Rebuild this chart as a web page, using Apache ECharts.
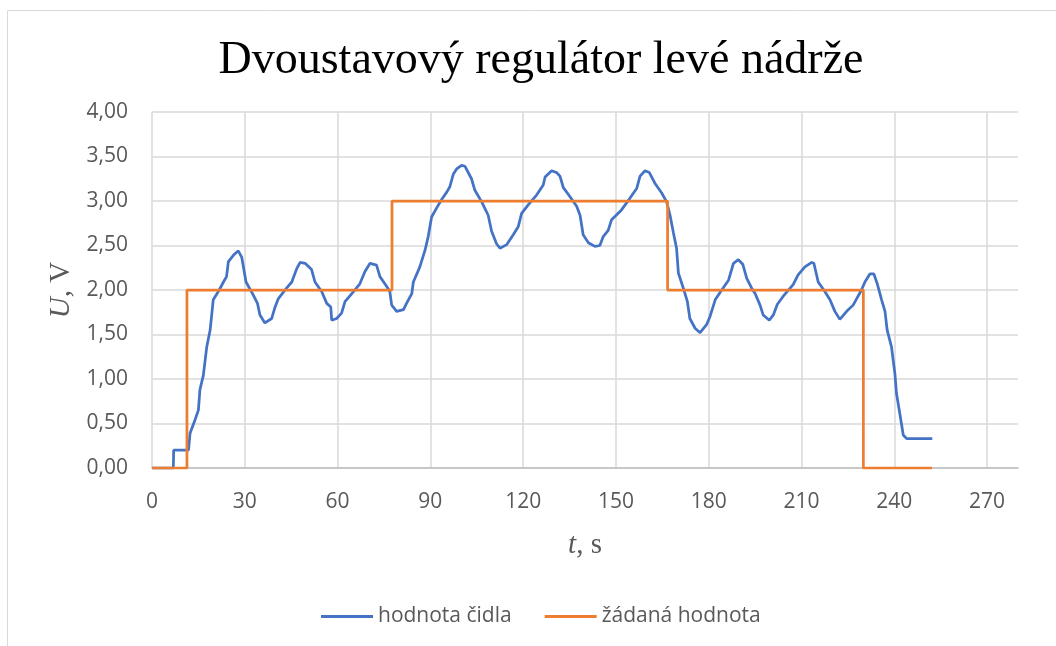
<!DOCTYPE html>
<html>
<head>
  <meta charset="utf-8">
  <title>Dvoustavový regulátor</title>
  <script src="https://cdn.jsdelivr.net/npm/echarts@6/dist/echarts.min.js"></script>
  <style>
    html, body { margin: 0; padding: 0; background: #fff; }
    #main { width: 1056px; height: 646px; }
  </style>
</head>
<body>
  <div id="main"></div>
  <script type="text/javascript">
    // hodnota čidla - čas [s] a napětí [V]
    var sensorTime = [0, 6.9, 7.0, 11.8, 12.3, 13.9, 15.0, 15.5, 16.6, 17.7, 18.8, 19.8, 21.4, 23.1, 24.1, 24.7, 26.3, 27.9, 29.0, 30.4,
      32.8, 34.1, 34.9, 36.5, 38.7, 39.8, 40.8, 43.5, 45.2, 46.8, 47.9, 49.5, 51.6, 52.7, 54.9, 56.5, 57.8, 58.1, 59.7, 61.3,
      62.4, 64.6, 67.2, 68.9, 70.5, 72.6, 73.7, 75.9, 76.9, 77.5, 79.1, 81.3, 82.3, 84.0, 84.5, 86.6, 88.3, 89.3, 90.4, 92.0,
      93.7, 95.3, 96.3, 97.4, 98.5, 100.1, 101.2, 103.3, 104.4, 106.6, 108.7, 109.8, 111.4, 112.5, 114.7, 116.8, 118.4, 119.5, 121.7, 124.4,
      126.5, 127.1, 129.2, 130.8, 131.9, 133.0, 135.1, 137.3, 138.4, 139.4, 141.1, 143.2, 144.8, 145.9, 147.5, 148.6, 151.8, 154.5, 156.7, 157.8,
      159.4, 160.8, 162.6, 164.8, 166.4, 167.5, 168.6, 169.6, 170.2, 171.8, 173.1, 173.9, 175.6, 177.2, 179.3, 180.4, 182.1, 184.2, 186.4, 188.0,
      189.6, 191.0, 192.3, 193.9, 195.0, 196.6, 197.6, 199.6, 200.9, 202.2, 204.1, 207.3, 208.9, 211.1, 213.3, 214.0, 215.4, 217.6, 219.2, 220.8,
      222.4, 224.6, 226.7, 227.8, 229.4, 230.5, 232.1, 233.4, 234.5, 235.9, 237.0, 237.7, 239.1, 240.2, 240.7, 241.8, 242.9, 244.0, 252.3]
    var sensorVolt = [0, 0, 0.2, 0.2, 0.39, 0.54, 0.65, 0.88, 1.04, 1.36, 1.55, 1.89, 1.98, 2.09, 2.15, 2.32, 2.39, 2.44, 2.37, 2.09,
      1.94, 1.85, 1.72, 1.63, 1.68, 1.81, 1.90, 2.02, 2.09, 2.24, 2.31, 2.30, 2.23, 2.09, 1.98, 1.85, 1.81, 1.66, 1.68, 1.74,
      1.87, 1.96, 2.07, 2.21, 2.30, 2.28, 2.15, 2.04, 1.98, 1.83, 1.76, 1.78, 1.85, 1.96, 2.09, 2.26, 2.45, 2.60, 2.82, 2.92,
      3.02, 3.10, 3.16, 3.30, 3.36, 3.40, 3.39, 3.25, 3.12, 2.99, 2.84, 2.66, 2.52, 2.47, 2.51, 2.62, 2.71, 2.86, 2.96, 3.07,
      3.18, 3.27, 3.34, 3.32, 3.28, 3.15, 3.05, 2.94, 2.84, 2.62, 2.53, 2.49, 2.50, 2.60, 2.67, 2.79, 2.90, 3.03, 3.14, 3.28,
      3.34, 3.32, 3.20, 3.09, 2.99, 2.84, 2.64, 2.47, 2.19, 2.02, 1.87, 1.68, 1.57, 1.52, 1.61, 1.70, 1.89, 2.00, 2.11, 2.30,
      2.34, 2.29, 2.13, 2.02, 1.96, 1.83, 1.72, 1.66, 1.72, 1.84, 1.93, 2.06, 2.17, 2.26, 2.31, 2.30, 2.09, 1.98, 1.89, 1.76,
      1.67, 1.76, 1.83, 1.90, 2.00, 2.09, 2.18, 2.18, 2.07, 1.89, 1.76, 1.55, 1.36, 1.06, 0.84, 0.61, 0.37, 0.33, 0.33]

    // žádaná hodnota
    var setTime = [0, 11.3, 11.3, 77.6, 77.6, 166.7, 166.7, 230, 230, 252.2]
    var setVolt = [0, 0, 2, 2, 3, 3, 2, 2, 0, 0]

    // popisky osy x
    var xTicks = [0, 30, 60, 90, 120, 150, 180, 210, 240, 270]

    function zip(a, b) {
      var out = []
      for (var i = 0; i < a.length; i++) {
        out.push([a[i], b[i]])
      }
      return out
    }

    var labelFont = '"Open Sans", sans-serif'
    var serifFont = '"Liberation Serif", serif'
    var myChart = echarts.init(document.getElementById('main'))

    var option = {
      animation: false,
      backgroundColor: '#fff',
      title: {
        text: 'Dvoustavový regulátor levé nádrže',
        left: 536,
        textAlign: 'center',
        top: 33,
        textStyle: {
          fontFamily: serifFont,
          fontSize: 46,
          fontWeight: 'normal',
          color: '#000'
        }
      },
      // rámeček grafu
      graphic: [{
        type: 'rect',
        shape: { x: 7.5, y: 10.5, width: 1200, height: 800 },
        style: { fill: 'none', stroke: '#d9d9d9', lineWidth: 1 },
        silent: true
      }],
      legend: {
        left: 316,
        top: 601,
        icon: 'rect',
        itemWidth: 52,
        itemHeight: 3,
        itemGap: 33,
        data: ['hodnota čidla', 'žádaná hodnota'],
        textStyle: {
          fontFamily: labelFont,
          fontSize: 21,
          color: '#595959'
        }
      },
      grid: {
        left: 152,
        right: 38,
        top: 112,
        bottom: 178
      },
      xAxis: {
        type: 'value',
        min: 0,
        max: 280,
        interval: 30,
        name: '{i|t}, s',
        nameLocation: 'middle',
        nameGap: 63,
        nameTextStyle: {
          fontFamily: serifFont,
          fontSize: 29,
          color: '#595959',
          rich: {
            i: { fontFamily: serifFont, fontSize: 29, fontStyle: 'italic', color: '#595959' }
          }
        },
        axisLine: { show: true, lineStyle: { color: '#bfbfbf', width: 1.5 } },
        axisTick: { show: false, customValues: xTicks },
        axisLabel: {
          customValues: xTicks,
          margin: 24,
          fontFamily: labelFont,
          fontSize: 21,
          color: '#595959'
        },
        splitLine: { show: true, lineStyle: { color: '#d9d9d9', width: 1.5 } }
      },
      yAxis: {
        type: 'value',
        min: 0,
        max: 4,
        interval: 0.5,
        name: '{i|U}, V',
        nameLocation: 'middle',
        nameRotate: 90,
        nameGap: 76,
        nameTextStyle: {
          fontFamily: serifFont,
          fontSize: 29,
          color: '#595959',
          rich: {
            i: { fontFamily: serifFont, fontSize: 29, fontStyle: 'italic', color: '#595959' }
          }
        },
        axisLine: { show: false },
        axisTick: { show: false },
        axisLabel: {
          margin: 24,
          fontFamily: labelFont,
          fontSize: 21,
          color: '#595959',
          formatter: function (v) {
            return v.toFixed(2).replace('.', ',')
          }
        },
        splitLine: { show: true, lineStyle: { color: '#d9d9d9', width: 1.5 } }
      },
      series: [{
        name: 'hodnota čidla',
        type: 'line',
        data: zip(sensorTime, sensorVolt),
        symbol: 'none',
        smooth: false,
        lineStyle: { color: '#4472C4', width: 2.75 },
        itemStyle: { color: '#4472C4' }
      }, {
        name: 'žádaná hodnota',
        type: 'line',
        data: zip(setTime, setVolt),
        symbol: 'none',
        lineStyle: { color: '#ED7D31', width: 2.75 },
        itemStyle: { color: '#ED7D31' }
      }]
    }

    myChart.setOption(option)
  </script>
</body>
</html>
